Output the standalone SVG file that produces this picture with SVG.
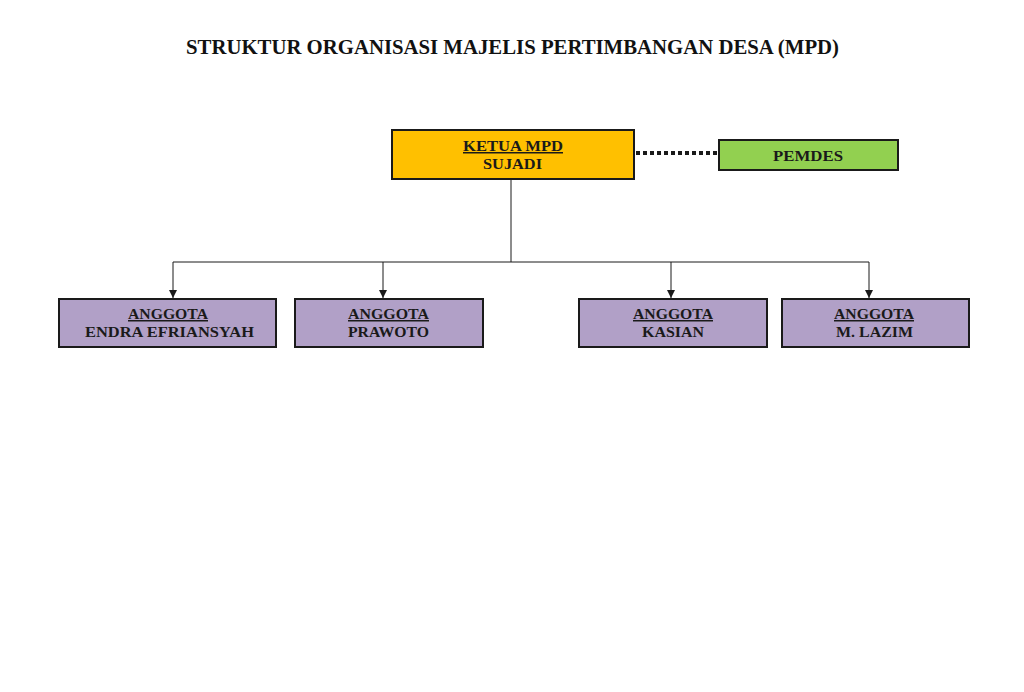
<svg xmlns="http://www.w3.org/2000/svg" width="1024" height="692" viewBox="0 0 1024 692">
<style>
.box{stroke:#1a1a1a;stroke-width:2}
.t{font-family:"Liberation Serif",serif;font-weight:bold;font-size:15px;fill:#1a1a1a;text-anchor:middle}
.u{text-decoration:underline}
.c{stroke:#1a1a1a;stroke-width:1;fill:none}
.title{font-family:"Liberation Serif",serif;font-weight:bold;font-size:21.5px;fill:#111;text-anchor:middle}
</style>
<defs>
<marker id="ah" viewBox="0 0 8 8" markerWidth="8" markerHeight="8" refX="8" refY="4" orient="auto" markerUnits="userSpaceOnUse">
<path d="M0,0 L8,4 L0,8 Z" fill="#1a1a1a"/>
</marker>
</defs>
<rect width="1024" height="692" fill="#fff"/>
<text class="title" x="512.5" y="54" textLength="653" lengthAdjust="spacingAndGlyphs">STRUKTUR ORGANISASI MAJELIS PERTIMBANGAN DESA (MPD)</text>
<g id="connectors">
<line x1="636" y1="153" x2="718" y2="153" stroke="#1a1a1a" stroke-width="4" stroke-dasharray="4,3"/>
<line class="c" x1="511" y1="179" x2="511" y2="262"/>
<line class="c" x1="173" y1="262" x2="869" y2="262"/>
<line class="c" x1="173" y1="262" x2="173" y2="298" marker-end="url(#ah)"/>
<line class="c" x1="383" y1="262" x2="383" y2="298" marker-end="url(#ah)"/>
<line class="c" x1="671" y1="262" x2="671" y2="298" marker-end="url(#ah)"/>
<line class="c" x1="869" y1="262" x2="869" y2="298" marker-end="url(#ah)"/>
</g>
<g id="ketua">
<rect class="box" x="392" y="130" width="242" height="49" fill="#FFC000"/>
<text class="t u" x="513" y="151" textLength="100" lengthAdjust="spacingAndGlyphs">KETUA MPD</text>
<text class="t" x="512.5" y="169" textLength="59" lengthAdjust="spacingAndGlyphs">SUJADI</text>
</g>
<g id="pemdes">
<rect class="box" x="719" y="140" width="179" height="30" fill="#92D050"/>
<text class="t" x="808" y="161" textLength="70" lengthAdjust="spacingAndGlyphs">PEMDES</text>
</g>
<g id="anggota1">
<rect class="box" x="59" y="299" width="217" height="48" fill="#B1A0C7"/>
<text class="t u" x="168" y="319" textLength="80" lengthAdjust="spacingAndGlyphs">ANGGOTA</text>
<text class="t" x="169.5" y="337" textLength="169" lengthAdjust="spacingAndGlyphs">ENDRA EFRIANSYAH</text>
</g>
<g id="anggota2">
<rect class="box" x="295" y="299" width="188" height="48" fill="#B1A0C7"/>
<text class="t u" x="388.5" y="319" textLength="81" lengthAdjust="spacingAndGlyphs">ANGGOTA</text>
<text class="t" x="388.5" y="337" textLength="81" lengthAdjust="spacingAndGlyphs">PRAWOTO</text>
</g>
<g id="anggota3">
<rect class="box" x="579" y="299" width="188" height="48" fill="#B1A0C7"/>
<text class="t u" x="673" y="319" textLength="80" lengthAdjust="spacingAndGlyphs">ANGGOTA</text>
<text class="t" x="673" y="337" textLength="62" lengthAdjust="spacingAndGlyphs">KASIAN</text>
</g>
<g id="anggota4">
<rect class="box" x="782" y="299" width="187" height="48" fill="#B1A0C7"/>
<text class="t u" x="874" y="319" textLength="80" lengthAdjust="spacingAndGlyphs">ANGGOTA</text>
<text class="t" x="874.5" y="337" textLength="77" lengthAdjust="spacingAndGlyphs">M. LAZIM</text>
</g>
</svg>
